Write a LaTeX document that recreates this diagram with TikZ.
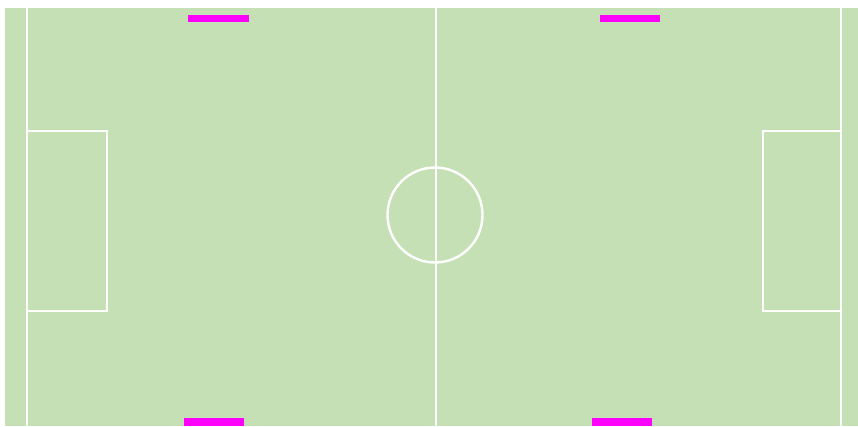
\documentclass[tikz,border=0pt]{standalone}
\definecolor{pitch}{HTML}{C5E0B4}
\definecolor{goal}{HTML}{FF00FF}
\begin{document}
\begin{tikzpicture}[x=1pt,y=-1pt,
  line/.style={draw=white,line width=2.4pt},
  goalbar/.style={fill=goal}]
\useasboundingbox (0,0) rectangle (858,426);
\fill[white] (0,0) rectangle (858,426);
\fill[pitch] (5,8) rectangle (858,426);
% touch lines
\draw[line] (27,8) -- (27,426);
\draw[line] (841,8) -- (841,426);
\draw[line] (436,8) -- (436,426);
% centre circle
\draw[line] (435,215) circle[radius=47.5];
% penalty boxes
\draw[line] (27,131) -- (107,131) -- (107,311) -- (27,311);
\draw[line] (841,131) -- (763,131) -- (763,311) -- (841,311);
% goals
\fill[goalbar] (188,15) rectangle (249,22);
\fill[goalbar] (600,15) rectangle (660,22);
\fill[goalbar] (184,418) rectangle (244,426);
\fill[goalbar] (592,418) rectangle (652,426);
\end{tikzpicture}
\end{document}
